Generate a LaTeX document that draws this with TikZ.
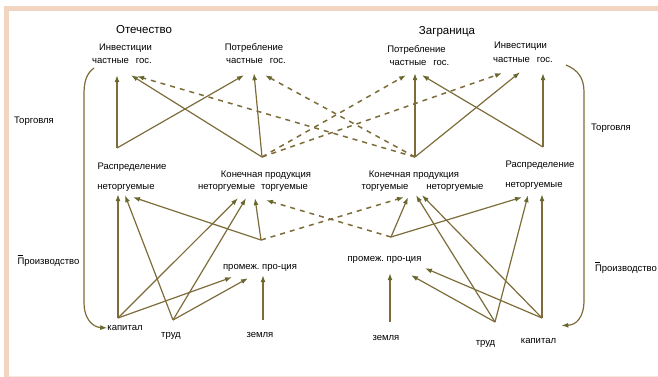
\documentclass[tikz,border=0pt]{standalone}
\usepackage{fontspec}
\setmainfont{Liberation Sans}
\usepackage{tikz}
\usetikzlibrary{arrows.meta}
\definecolor{lineol}{RGB}{125,108,58}
\definecolor{tipol}{RGB}{104,104,46}
\definecolor{frame}{RGB}{242,213,192}
\tikzset{
    lbl/.style = {
       inner sep=0pt,
       font=\fontsize{9.5}{11}\selectfont,
       text height=7pt,
       text depth=2pt
    },
    ttl/.style = {
       inner sep=0pt,
       font=\fontsize{11.5}{13}\selectfont
    },
    flow/.style = {
       draw=lineol,
       line width=1.2pt
    },
    dashline/.style = {
       draw=lineol,
       line width=1.5pt,
       dash pattern=on 5pt off 5pt
    }
%    tip/.style = {fill=tipol}
}

\begin{document}
\begin{tikzpicture}[x=1pt,y=-1pt,->,>={Latex[length=7pt,width=5pt,color=tipol]},every edge/.style={flow}]
   \useasboundingbox (0,0) rectangle (658,377);
   % frame
   \fill[frame] (4,6) rectangle (658,11);
   \fill[frame] (4,6) rectangle (9,377);
   \fill[frame!60] (9,375.5) rectangle (658,377);
   % titles
   \node[ttl] (otL) at (144,30) {Отечество};
   \node[ttl] (zaR) at (447,32) {Заграница};
   % upper row
   \node[lbl] (invL1) at (125.5,48) {Инвестиции};
   \node[lbl] (invL2) at (122,61) {частные\hspace{7pt}гос.};
   \node[lbl] (potL1) at (254,48) {Потребление};
   \node[lbl] (potL2) at (256,61) {частные\hspace{7pt}гос.};
   \node[lbl] (potR1) at (416.5,50) {Потребление};
   \node[lbl] (potR2) at (419.5,63.5) {частные\hspace{7pt}гос.};
   \node[lbl] (invR1) at (520.5,46) {Инвестиции};
   \node[lbl] (invR2) at (523,60) {частные\hspace{7pt}гос.};
   % middle row
   \node[lbl] (rasL1) at (132,167) {Распределение};
   \node[lbl] (rasL2) at (126,187) {неторгуемые};
   \node[lbl] (konL1) at (266,175) {Конечная продукция};
   \node[lbl] (konL2) at (253,187) {неторгуемые\hspace{6pt}торгуемые};
   \node[lbl] (konR1) at (414,175) {Конечная продукция};
   \node[lbl] (konR2) at (422.5,187) {торгуемые\hspace{18pt}неторгуемые};
   \node[lbl] (rasR1) at (540,165) {Распределение};
   \node[lbl] (rasR2) at (534,185) {неторгуемые};
   % lower rows
   \node[lbl] (promL) at (260,267) {промеж.\ про-ция};
   \node[lbl] (promR) at (384.5,259) {промеж.\ про-ция};
   \node[lbl] (kapL) at (125,328) {капитал};
   \node[lbl] (trudL) at (171,335) {труд};
   \node[lbl] (zemL) at (260,335) {земля};
   \node[lbl] (zemR) at (386,338) {земля};
   \node[lbl] (trudR) at (485.5,343) {труд};
   \node[lbl] (kapR) at (538.5,340.5) {капитал};
   % side labels
   \node[lbl] (torgL) at (34,121) {Торговля};
   \node[lbl] (proizL) at (48.5,261.5) {\rlap{\raisebox{8.3pt}{\rule{5pt}{0.7pt}}}Производство};
   \node[lbl] (torgR) at (611,128) {Торговля};
   \node[lbl] (proizR) at (626,268.5) {\rlap{\raisebox{8.3pt}{\rule{5pt}{0.7pt}}}Производство};
   % junction points
   \coordinate (rasLp) at (117,148);
   \coordinate (konLp) at (262,157);
   \coordinate (konRp) at (415,157);
   \coordinate (rasRp) at (543,147);
   \coordinate (capLp) at (118,318);
   \coordinate (trudLp) at (173,320);
   \coordinate (zemLp) at (263,320);
   \coordinate (promLp) at (261,240);
   \coordinate (promRp) at (391,237);
   \coordinate (zemRp) at (390,322);
   \coordinate (trudRp) at (495,322);
   \coordinate (capRp) at (542,318);
   \coordinate (brL) at (94,68);
   \coordinate (brR) at (566,65);
\path
(rasLp) edge ([xshift=-5pt,yshift=-9.5pt]invL2.south)
(rasLp) edge ([xshift=-12pt,yshift=-9.5pt]potL2.south)
(konLp) edge ([xshift=-2pt,yshift=-7.5pt]potL2.south)
(konLp) edge ([xshift=9pt,yshift=-9.5pt]invL2.south)
(konRp) edge ([xshift=-4.5pt,yshift=-5pt]potR2.south)
(konRp) edge ([xshift=-3pt,yshift=-7.5pt]invR2.south)
(rasRp) edge ([xshift=20pt,yshift=-8.5pt]invR2.south)
(rasRp) edge ([xshift=2.5pt,yshift=-7pt]potR2.south)
(konRp) edge[dashline] ([xshift=15pt,yshift=-10.5pt]invL2.south)
(konRp) edge[dashline] ([xshift=9pt,yshift=-9.5pt]potL2.south)
(konLp) edge[dashline] ([xshift=-13.5pt,yshift=-7pt]potR2.south)
(konLp) edge[dashline] ([xshift=-21pt,yshift=-8.5pt]invR2.south)
% left production
(capLp) edge ([xshift=-8pt,yshift=-2.5pt]rasL2.south)
(trudLp) edge ([xshift=-1pt,yshift=-3.5pt]rasL2.south)
(promLp) edge ([xshift=7pt,yshift=-5.5pt]rasL2.south)
(capLp) edge ([xshift=-15pt,yshift=-6.5pt]konL2.south)
(trudLp) edge ([xshift=-7pt,yshift=-6.5pt]konL2.south)
(promLp) edge ([xshift=2pt,yshift=-6.5pt]konL2.south)
(capLp) edge ([xshift=-28pt,yshift=-5.5pt]promL.south)
(trudLp) edge ([xshift=-12pt,yshift=-6.5pt]promL.south)
(zemLp) edge ([xshift=3pt,yshift=-3.5pt]promL.south)
(promLp) edge[dashline] ([xshift=-18.5pt,yshift=-5.5pt]konR2.south)
% right production
(promRp) edge ([xshift=-14.5pt,yshift=-5.5pt]konR2.south)
(promRp) edge[dashline] ([xshift=13pt,yshift=-8.5pt]konL2.south)
(promRp) edge ([xshift=-12pt,yshift=-7.5pt]rasR2.south)
(zemRp) edge ([xshift=5.5pt,yshift=-9.5pt]promR.south)
(trudRp) edge ([xshift=-6.5pt,yshift=-3.5pt]konR2.south)
(trudRp) edge ([xshift=-6pt,yshift=-5.5pt]rasR2.south)
(capRp) edge ([xshift=8pt,yshift=-4.5pt]rasR2.south)
(capRp) edge ([xshift=-0.5pt,yshift=-3.5pt]konR2.south)
(capRp) edge ([xshift=40.5pt,yshift=-4.5pt]promR.south)
(trudRp) edge ([xshift=26.5pt,yshift=-11.5pt]promR.south);
% trade brackets
\draw[flow] (brL) .. controls (86,74) and (84,82) .. (84,95) -- (84,303)
   .. controls (84,318) and (92,327) .. (kapL.west);
\draw[flow] (brR) .. controls (578,70) and (584,78) .. (584,92) -- (584,300)
   .. controls (584,318) and (576,325) .. ([xshift=5pt,yshift=15pt]kapR.east);
\end{tikzpicture}
\end{document}
